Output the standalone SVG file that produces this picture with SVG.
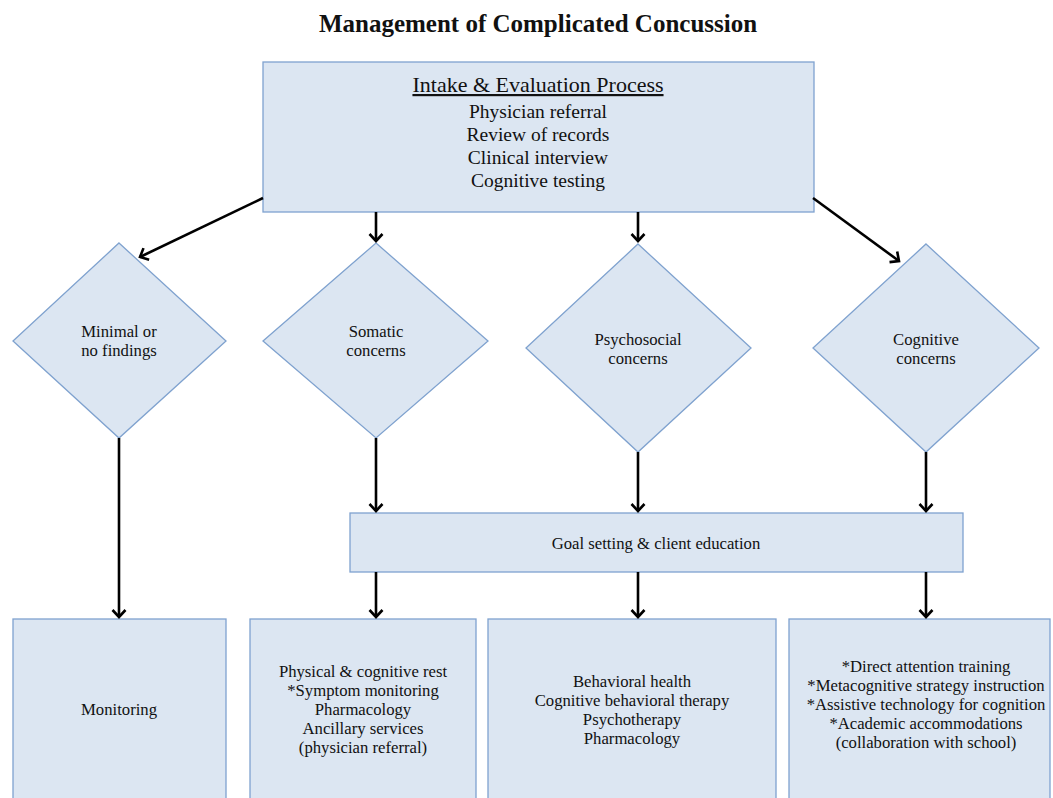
<svg xmlns="http://www.w3.org/2000/svg" width="1053" height="798" viewBox="0 0 1053 798">
<style>
  .box { fill: #dce6f2; stroke: #7fa2cf; stroke-width: 1.3; }
  .t { font-family: "Liberation Serif", "Times New Roman", serif; fill: #111111; text-anchor: middle; }
  .s17 { font-size: 16.7px; }
  .s20 { font-size: 19.5px; }
  .conn line { stroke: #000; stroke-width: 2.6; marker-end: url(#ah); }
</style>
<defs>
  <marker id="ah" markerUnits="userSpaceOnUse" markerWidth="24" markerHeight="24" viewBox="-12 -12 24 24" refX="0" refY="0" orient="auto">
    <path d="M-7,-6.5 L0,0 L-7,6.5" fill="none" stroke="#000" stroke-width="2.6"/>
  </marker>
</defs>
<rect width="1053" height="798" fill="#ffffff"/>
<text class="t" x="538" y="32" style="font-size:25px;font-weight:bold">Management of Complicated Concussion</text>

<g id="intake">
  <rect class="box" x="263" y="62" width="551" height="150"/>
  <text class="t" x="538" y="92" style="font-size:22px;text-decoration:underline">Intake &amp; Evaluation Process</text>
  <text class="t s20" x="538" y="118">Physician referral</text>
  <text class="t s20" x="538" y="141">Review of records</text>
  <text class="t s20" x="538" y="164">Clinical interview</text>
  <text class="t s20" x="538" y="187">Cognitive testing</text>
</g>

<g id="minimal">
  <polygon class="box" points="119,243 226,341 119,438 13,341"/>
  <text class="t s17" x="119" y="337">Minimal or</text>
  <text class="t s17" x="119" y="356">no findings</text>
</g>
<g id="somatic">
  <polygon class="box" points="376,243 488,341 376,438 263,341"/>
  <text class="t s17" x="376" y="337">Somatic</text>
  <text class="t s17" x="376" y="356">concerns</text>
</g>
<g id="psychosocial">
  <polygon class="box" points="638,244 751,348 638,452 526,348"/>
  <text class="t s17" x="638" y="345">Psychosocial</text>
  <text class="t s17" x="638" y="364">concerns</text>
</g>
<g id="cognitive">
  <polygon class="box" points="926,244 1039,348 926,452 813,348"/>
  <text class="t s17" x="926" y="345">Cognitive</text>
  <text class="t s17" x="926" y="364">concerns</text>
</g>

<g id="goal">
  <rect class="box" x="350" y="513" width="613" height="59"/>
  <text class="t s17" x="656" y="549">Goal setting &amp; client education</text>
</g>

<g id="monitoring">
  <rect class="box" x="13" y="619" width="213" height="190"/>
  <text class="t s17" x="119" y="715">Monitoring</text>
</g>
<g id="somatic-tx">
  <rect class="box" x="250" y="619" width="226" height="190"/>
  <text class="t s17" x="363" y="677">Physical &amp; cognitive rest</text>
  <text class="t s17" x="363" y="696">*Symptom monitoring</text>
  <text class="t s17" x="363" y="715">Pharmacology</text>
  <text class="t s17" x="363" y="734">Ancillary services</text>
  <text class="t s17" x="363" y="753">(physician referral)</text>
</g>
<g id="psych-tx">
  <rect class="box" x="488" y="619" width="288" height="190"/>
  <text class="t s17" x="632" y="687">Behavioral health</text>
  <text class="t s17" x="632" y="706">Cognitive behavioral therapy</text>
  <text class="t s17" x="632" y="725">Psychotherapy</text>
  <text class="t s17" x="632" y="744">Pharmacology</text>
</g>
<g id="cog-tx">
  <rect class="box" x="789" y="619" width="261" height="190"/>
  <text class="t s17" x="926" y="672">*Direct attention training</text>
  <text class="t s17" x="926" y="691">*Metacognitive strategy instruction</text>
  <text class="t s17" x="926" y="710">*Assistive technology for cognition</text>
  <text class="t s17" x="926" y="729">*Academic accommodations</text>
  <text class="t s17" x="926" y="748">(collaboration with school)</text>
</g>

<g id="connectors" class="conn">
  <line x1="263" y1="198" x2="140" y2="257"/>
  <line x1="376" y1="212" x2="376" y2="241"/>
  <line x1="638" y1="212" x2="638" y2="241"/>
  <line x1="813" y1="198" x2="899" y2="261"/>
  <line x1="119" y1="438" x2="119" y2="617"/>
  <line x1="376" y1="438" x2="376" y2="511"/>
  <line x1="638" y1="452" x2="638" y2="511"/>
  <line x1="926" y1="452" x2="926" y2="511"/>
  <line x1="376" y1="572" x2="376" y2="617"/>
  <line x1="638" y1="572" x2="638" y2="617"/>
  <line x1="926" y1="572" x2="926" y2="617"/>
</g>
</svg>
